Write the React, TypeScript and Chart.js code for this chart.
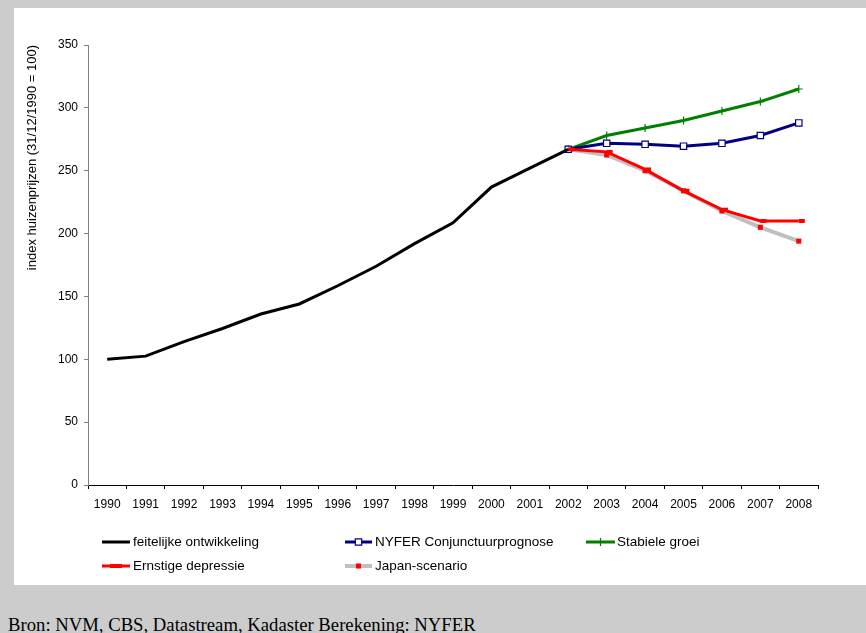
import React, { useEffect, useRef } from "react";
import { Chart, registerables } from "chart.js";

Chart.register(...registerables);

const years = ["1990","1991","1992","1993","1994","1995","1996","1997","1998","1999","2000","2001","2002","2003","2004","2005","2006","2007","2008"];
const feitelijke = [100, 102.5, 114, 124.5, 136, 144, 158.5, 174, 192, 208.5, 237, 252, 267, null, null, null, null, null, null];
const nyfer = [null, null, null, null, null, null, null, null, null, null, null, null, 267, 271.8, 271, 269.5, 271.8, 278, 288];
const stabiel = [null, null, null, null, null, null, null, null, null, null, null, null, 267, 278, 284, 290, 297.5, 305, 315];
const ernstig = [null, null, null, null, null, null, null, null, null, null, null, null, 267, 265, 251, 234, 219, 210, 210];
const japan = [null, null, null, null, null, null, null, null, null, null, null, null, 267, 262.5, 250, 234, 218, 205, 194];
const yTicks = [0, 50, 100, 150, 200, 250, 300, 350];
const yTitle = "index huizenprijzen (31/12/1990 = 100)";
const legendLabels = ["feitelijke ontwikkeling", "NYFER Conjunctuurprognose", "Stabiele groei", "Ernstige depressie", "Japan-scenario"];
const source = "Bron: NVM, CBS, Datastream, Kadaster Berekening: NYFER";

const FONT = "'Liberation Sans', Arial, sans-serif";

// legend slots: [lineStartX, lineEndX, textX, y]
const legendSlots = [
  [88, 116, 119, 534],
  [331, 358, 361, 534],
  [572, 601, 603, 534],
  [88, 116, 119, 558],
  [331, 358, 361, 558],
];

function drawMarker(ctx: CanvasRenderingContext2D, ds: any, x: number, y: number) {
  const style = ds.pointStyle;
  const r = ds.pointRadius;
  if (!r) return;
  ctx.save();
  ctx.lineWidth = ds.pointBorderWidth;
  ctx.strokeStyle = ds.pointBorderColor;
  ctx.fillStyle = ds.pointBackgroundColor;
  if (style === "rect") {
    const s = Math.SQRT1_2 * r;
    ctx.beginPath();
    ctx.rect(x - s, y - s, 2 * s, 2 * s);
    ctx.fill();
    if (ds.pointBorderWidth) ctx.stroke();
  } else if (style === "cross") {
    ctx.beginPath();
    ctx.moveTo(x - r, y);
    ctx.lineTo(x + r, y);
    ctx.moveTo(x, y - r);
    ctx.lineTo(x, y + r);
    ctx.stroke();
  } else if (style === "dash") {
    ctx.beginPath();
    ctx.moveTo(x - r, y);
    ctx.lineTo(x + r, y);
    ctx.stroke();
  }
  ctx.restore();
}

const legendPlugin = {
  id: "customLegend",
  afterDraw(chart: any) {
    const ctx: CanvasRenderingContext2D = chart.ctx;
    const dsets = chart.data.datasets;
    ctx.save();
    dsets.forEach((ds: any, i: number) => {
      const [x0, x1, tx, y] = legendSlots[i];
      ctx.beginPath();
      ctx.strokeStyle = ds.borderColor;
      ctx.lineWidth = ds.borderWidth;
      ctx.moveTo(x0, y);
      ctx.lineTo(x1, y);
      ctx.stroke();
      drawMarker(ctx, ds, (x0 + x1) / 2, y);
      ctx.fillStyle = "#000";
      ctx.font = `13.5px ${FONT}`;
      ctx.textBaseline = "middle";
      ctx.textAlign = "left";
      ctx.fillText(ds.label, tx, y);
    });
    ctx.restore();
  },
};

export default function App() {
  const ref = useRef<HTMLCanvasElement | null>(null);
  useEffect(() => {
    if (!ref.current) return;
    const chart = new Chart(ref.current, {
      type: "line",
      data: {
        labels: years,
        datasets: [
          {
            label: legendLabels[0],
            data: feitelijke,
            borderColor: "#000000",
            borderWidth: 3,
            pointRadius: 0,
            pointStyle: "circle",
            order: 0,
          },
          {
            label: legendLabels[1],
            data: nyfer,
            borderColor: "#000080",
            borderWidth: 3,
            pointStyle: "rect",
            pointRadius: 4.5,
            pointBorderWidth: 1.2,
            pointBorderColor: "#000080",
            pointBackgroundColor: "#ffffff",
            order: 2,
          },
          {
            label: legendLabels[2],
            data: stabiel,
            borderColor: "#008000",
            borderWidth: 3,
            pointStyle: "cross",
            pointRadius: 4,
            pointBorderWidth: 1.2,
            pointBorderColor: "#008000",
            pointBackgroundColor: "#008000",
            order: 3,
          },
          {
            label: legendLabels[3],
            data: ernstig,
            borderColor: "#ff0000",
            borderWidth: 3,
            pointStyle: "dash",
            pointRadius: 6,
            pointBorderWidth: 4,
            pointBorderColor: "#ff0000",
            pointBackgroundColor: "#ff0000",
            order: 1,
          },
          {
            label: legendLabels[4],
            data: japan,
            borderColor: "#c0c0c0",
            borderWidth: 4,
            pointStyle: "rect",
            pointRadius: 3.6,
            pointBorderWidth: 0,
            pointBorderColor: "#ff0000",
            pointBackgroundColor: "#ff0000",
            order: 4,
          },
        ],
      },
      options: {
        responsive: false,
        animation: false,
        events: [],
        layout: { padding: { left: 8, top: 37, right: 48, bottom: 0 } },
        plugins: {
          legend: { display: false },
          tooltip: { enabled: false },
          title: { display: false },
        },
        scales: {
          x: {
            type: "category",
            offset: true,
            grid: {
              display: true,
              offset: true,
              drawOnChartArea: false,
              drawTicks: true,
              tickLength: 4,
              color: "#000000",
            },
            border: { display: true, color: "#000000", width: 1 },
            ticks: {
              color: "#000000",
              font: { family: FONT, size: 12 },
              padding: 8,
              maxRotation: 0,
              autoSkip: false,
            },
            afterFit: (s: any) => { s.height = 100; },
          },
          y: {
            min: 0,
            max: 350,
            afterBuildTicks: (s: any) => { s.ticks = yTicks.map((v) => ({ value: v })); },
            grid: {
              display: true,
              drawOnChartArea: false,
              drawTicks: true,
              tickLength: 4,
              color: "#808080",
            },
            border: { display: true, color: "#808080", width: 1 },
            ticks: {
              color: "#000000",
              font: { family: FONT, size: 12 },
              padding: 6,
            },
            title: {
              display: true,
              text: yTitle,
              align: "end",
              color: "#000000",
              font: { family: FONT, size: 13 },
              padding: { top: 3, bottom: 0 },
            },
            afterFit: (s: any) => { s.width = 66; },
          },
        },
      },
      plugins: [legendPlugin],
    });
    return () => chart.destroy();
  }, []);

  return (
    <div style={{ position: "absolute", left: 0, top: 0, width: 866, height: 633, background: "#cccccc", overflow: "hidden" }}>
      <div style={{ position: "absolute", left: 14, top: 8, width: 852, height: 577, background: "#ffffff" }}>
        <canvas ref={ref} width={852} height={577} style={{ display: "block", width: 852, height: 577 }} />
      </div>
      <div style={{ position: "absolute", left: 8, top: 616, fontFamily: "'Liberation Serif', 'Times New Roman', serif", fontSize: 18.7, lineHeight: 1, color: "#000", whiteSpace: "nowrap" }}>
        {source}
      </div>
    </div>
  );
}
